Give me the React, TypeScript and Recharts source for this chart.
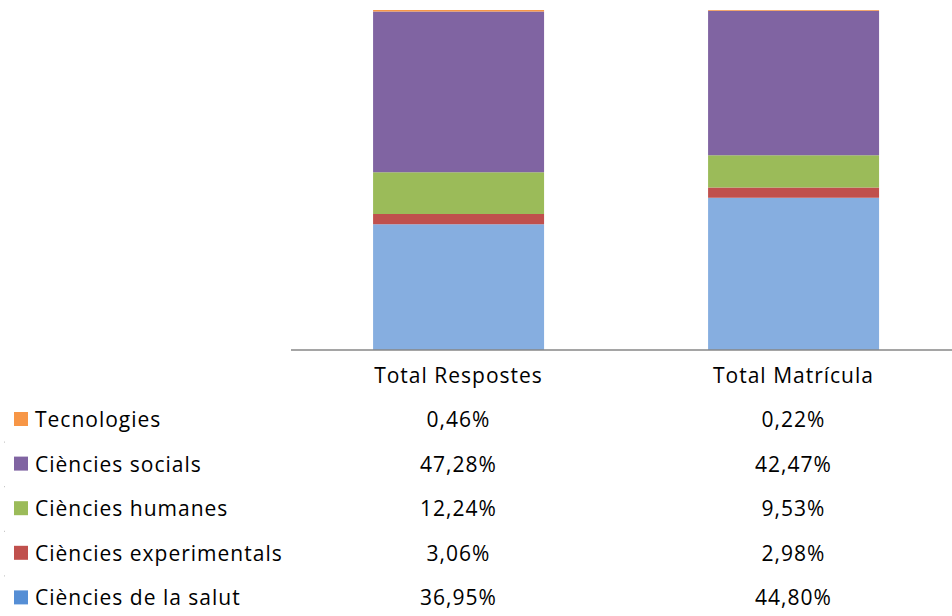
import { Bar, BarChart, XAxis, YAxis } from "recharts";

const categories = ["Total Respostes", "Total Matrícula"];
const seriesNames = [
  "Ciències de la salut",
  "Ciències experimentals",
  "Ciències humanes",
  "Ciències socials",
  "Tecnologies",
];
const salut = [36.95, 44.8];
const experimentals = [3.06, 2.98];
const humanes = [12.24, 9.53];
const socials = [47.28, 42.47];
const tecnologies = [0.46, 0.22];

const seriesValues = [salut, experimentals, humanes, socials, tecnologies];
const keys = ["salut", "experimentals", "humanes", "socials", "tecnologies"];
const barColors = ["#86AEE0", "#C0504D", "#9BBB59", "#8064A2", "#F79646"];
const legendColors = ["#558ED5", "#C0504D", "#9BBB59", "#8064A2", "#F79646"];

const FONT = "'Open Sans', sans-serif";
const FONT_SIZE = 21;
const SPACING = 1;
const ROW_GAP = 44.6;

const data = categories.map((name, i) => {
  const row: Record<string, string | number> = { name };
  keys.forEach((k, s) => {
    row[k] = seriesValues[s][i];
  });
  return row;
});

const fmt = (v: number) => v.toFixed(2).replace(".", ",") + "%";

// table rows are listed top-down: last series first
const tableOrder = [4, 3, 2, 1, 0];

function TableTick(props: any) {
  const { x, y, payload } = props;
  const idx = payload.index;
  const textProps = {
    dominantBaseline: "central" as const,
    fontFamily: FONT,
    fontSize: FONT_SIZE,
    letterSpacing: SPACING,
    fill: "#000",
  };
  return (
    <g>
      <text x={x} y={y + 17} textAnchor="middle" {...textProps}>
        {payload.value}
      </text>
      {tableOrder.map((s, r) => (
        <text
          key={s}
          x={x}
          y={y + 61 + r * ROW_GAP}
          textAnchor="middle"
          {...textProps}
        >
          {fmt(seriesValues[s][idx])}
        </text>
      ))}
      {idx === 0 &&
        tableOrder.map((s, r) => (
          <g key={"lg" + s}>
            <rect
              x={14}
              y={y + 61 + r * ROW_GAP - 7}
              width={14}
              height={14}
              fill={legendColors[s]}
            />
            <text x={35} y={y + 61 + r * ROW_GAP} {...textProps}>
              {seriesNames[s]}
            </text>
            {r > 0 && (
              <rect
                x={4}
                y={y + 61 + r * ROW_GAP - 22}
                width={1}
                height={1}
                fill="#bbbbbb"
              />
            )}
          </g>
        ))}
    </g>
  );
}

export default function App() {
  return (
    <div
      style={{
        position: "absolute",
        left: 0,
        top: 0,
        width: 952,
        height: 616,
        overflow: "hidden",
        background: "#fff",
      }}
    >
      <BarChart
        width={961}
        height={616}
        data={data}
        margin={{ top: 10, right: 0, bottom: 0, left: 291 }}
        barCategoryGap="24.5%"
      >
        <XAxis
          dataKey="name"
          height={266}
          axisLine={{ stroke: "#878787", strokeWidth: 1.5 }}
          tickLine={false}
          tick={<TableTick />}
          interval={0}
        />
        <YAxis domain={[0, 100]} hide />
        {keys.map((k, s) => (
          <Bar
            key={k}
            dataKey={k}
            stackId="a"
            fill={barColors[s]}
            isAnimationActive={false}
          />
        ))}
      </BarChart>
    </div>
  );
}
